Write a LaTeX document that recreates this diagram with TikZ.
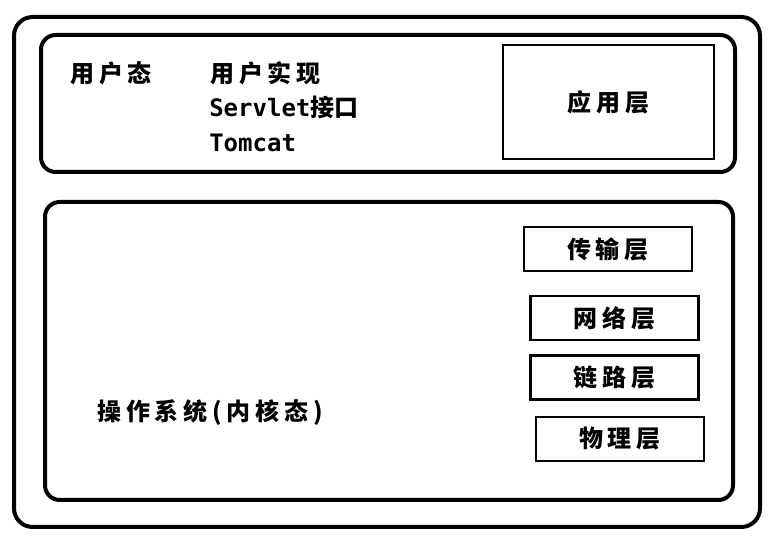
\documentclass[tikz,border=0pt]{standalone}
\usepackage{fontspec}
\setmonofont{DejaVu Sans Mono}
\newfontfamily\cjk[LetterSpace=20]{Noto Sans CJK SC}
\newfontfamily\cjkplain{Noto Sans CJK SC}
\usetikzlibrary{positioning}

\begin{document}
\begin{tikzpicture}[x=0.75pt,y=-0.75pt,
  frame/.style={draw,line width=3pt,rounded corners=14pt,inner sep=0pt},
  panel/.style={draw,line width=3pt,rounded corners=11pt,inner sep=0pt},
  layer/.style={draw,line width=2.2pt,inner sep=0pt,minimum width=126pt,minimum height=33pt,
    font=\cjk\bfseries\fontsize{18}{21}\selectfont},
  lbl/.style={anchor=west,inner sep=0pt,font=\cjk\bfseries\fontsize{18}{21}\selectfont},
  code/.style={anchor=west,inner sep=0pt,font=\cjkplain\bfseries\fontsize{18}{21}\selectfont}
]
\useasboundingbox (0,0) rectangle (776,545);
% containers
\node[frame,minimum width=559.5pt,minimum height=382.5pt] (outer) at (387,272) {};
\node[panel,minimum width=520.5pt,minimum height=102.75pt] (user) at (388,103.5) {};
\node[panel,minimum width=516pt,minimum height=223.5pt] (kernel) at (389,351) {};
% user space
\node[lbl] (ustate) at (70,73) {用户态};
\node[lbl] (uimpl) at (210,73) {用户实现};
\node[code] (servlet) at (209,107) {{\ttfamily\bfseries Servlet}接口};
\node[code] (tomcat) at (209,143) {\ttfamily\bfseries Tomcat};
\node[layer,minimum width=158.25pt,minimum height=85.5pt] (app) at (608.5,102) {应用层};
% kernel space
\node[lbl] (os) at (97,413) {操作系统(内核态)};
\node[layer] (trans) at (608,249) {传输层};
\node[layer] (net) at (614.5,318) {网络层};
\node[layer] (link) at (614.5,377.5) {链路层};
\node[layer] (phys) at (620,439) {物理层};
\end{tikzpicture}
\end{document}
